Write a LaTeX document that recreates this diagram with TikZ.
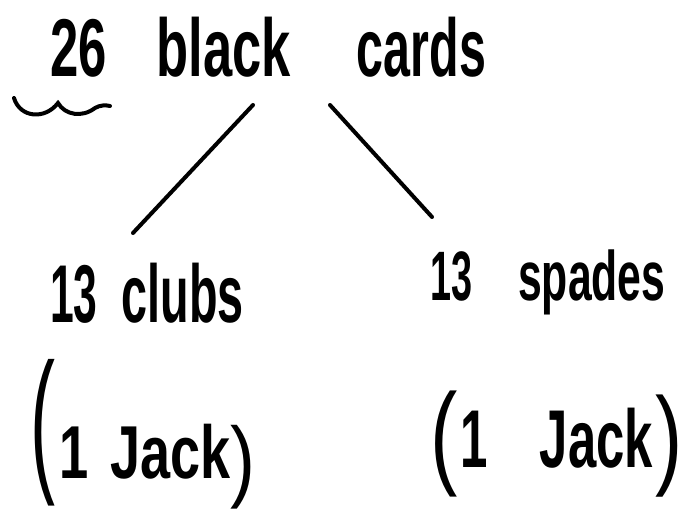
\documentclass[tikz,border=0pt]{standalone}
\usepackage{fontspec}
\setmainfont{Liberation Sans}
\usetikzlibrary{calc}
\newcommand{\hx}[2]{\scalebox{#1}[1]{#2}}
\newcommand{\pp}[3]{\raisebox{#1}{\scalebox{1}[#2]{\mdseries #3}}}
\begin{document}
\begin{tikzpicture}[x=1pt,y=-1pt,
  hand/.style={inner sep=0pt, anchor=base west},
  conn/.style={line width=4pt, line cap=round}]
\useasboundingbox (0,0) rectangle (687,513);
\node[hand, font=\fontsize{82}{90}\bfseries] (title) at (50,77)
  {\hx{0.62}{26}\hspace{50pt}\hx{0.64}{black}\hspace{66pt}\hx{0.59}{cards}};
\node[hand, font=\fontsize{82}{90}\bfseries] (clubs) at (50,322)
  {\hx{0.52}{13}\hspace{24pt}\hx{0.57}{clubs}};
\node[hand, font=\fontsize{70}{80}\bfseries] (spades) at (430,300)
  {\hx{0.54}{13}\hspace{46pt}\hx{0.61}{spades}};
\node[hand, font=\fontsize{75}{85}\bfseries] (jackL) at (30,478)
  {\pp{5pt}{2.1}{(}\hspace{4pt}\hx{0.7}{1}\hspace{22pt}\hx{0.72}{Jack}\hspace{0pt}\pp{-12pt}{1.2}{)}};
\node[hand, font=\fontsize{82}{90}\bfseries] (jackR) at (430,467)
  {\pp{-6pt}{1.39}{(}\hspace{3pt}\hx{0.6}{1}\hspace{52pt}\hx{0.62}{Jack}\hspace{3pt}\pp{-7pt}{1.34}{)}};
\draw[conn] ($(title.base west)+(203,28)$) -- ($(clubs.base west)+(83,-89)$);
\draw[conn] ($(title.base west)+(280,28)$) -- ($(spades.base west)+(2,-83)$);
\draw[conn] (14,98) .. controls (20,118) and (45,120) .. (58,103)
  .. controls (65,115) and (82,118) .. (95,108)
  .. controls (100,105) and (106,105) .. (110,106);
\end{tikzpicture}
\end{document}
